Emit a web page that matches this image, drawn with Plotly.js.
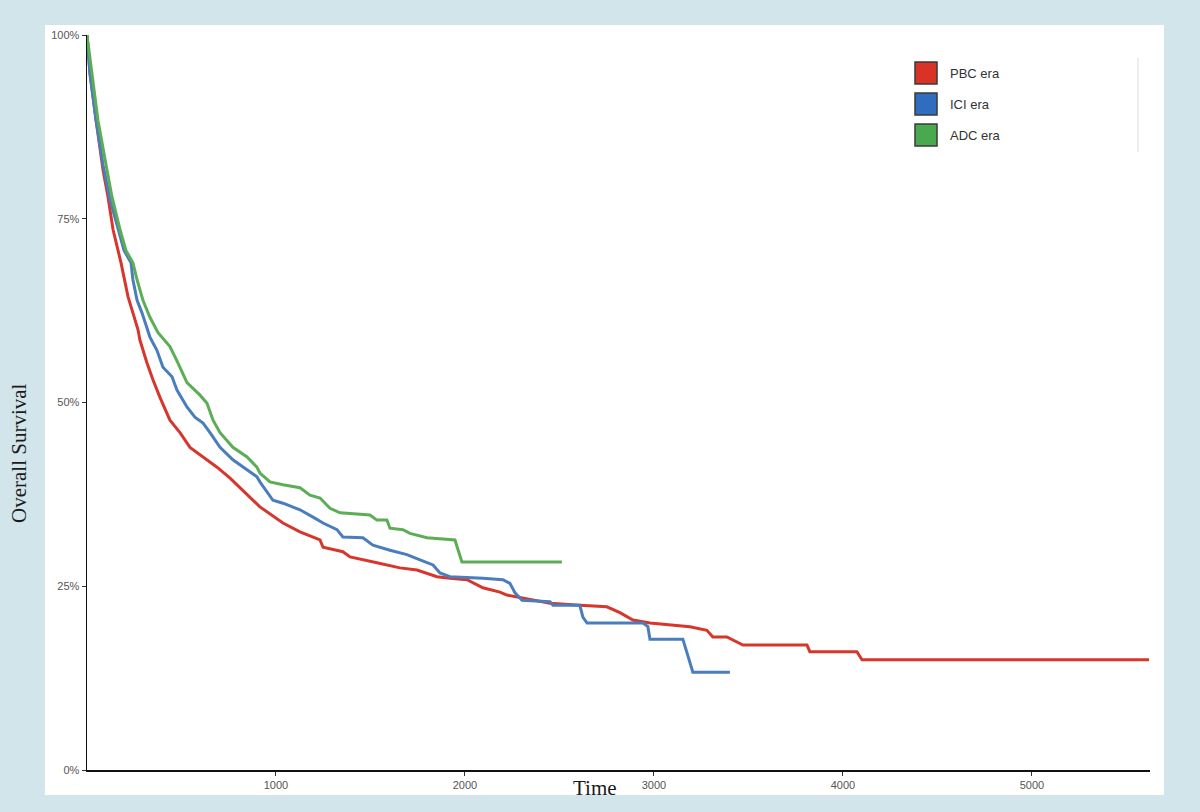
<!DOCTYPE html>
<html>
<head>
<meta charset="utf-8">
<script src="https://cdn.plot.ly/plotly-3.0.1.min.js"></script>
<style>
  html, body { margin: 0; padding: 0; background: rgb(210,229,234); }
  #chart { width: 1200px; height: 812px; }
</style>
</head>
<body>
<div id="chart"></div>
<script>
// Kaplan-Meier overall survival by treatment era (time in days, survival in %)
const eraNames = ['PBC era', 'ICI era', 'ADC era'];

const pbcTime = [0, 16, 48, 85, 111, 138, 180, 217, 243, 270, 280, 317, 349, 386, 439, 492, 545, 614, 688, 757,
  862, 915, 1037, 1127, 1233, 1249, 1354, 1392, 1534, 1656, 1746, 1852, 1921, 2011, 2095, 2185, 2222, 2307,
  2450, 2608, 2751, 2820, 2889, 2979, 3190, 3280, 3312, 3386, 3471, 3810, 3825, 4074, 4101, 5620];
const pbcSurv = [100, 94.8, 88.4, 81.6, 78.0, 73.5, 69.0, 64.4, 62.2, 59.9, 58.5, 55.4, 53.1, 50.7, 47.6, 45.9, 43.9, 42.6, 41.2, 39.7,
  37.1, 35.8, 33.6, 32.4, 31.3, 30.3, 29.7, 29.0, 28.2, 27.5, 27.2, 26.3, 26.1, 25.9, 24.8, 24.2, 23.8, 23.4,
  22.7, 22.4, 22.2, 21.4, 20.4, 20.0, 19.5, 19.0, 18.1, 18.1, 17.0, 17.0, 16.1, 16.1, 15.0, 15.0];

const iciTime = [0, 16, 48, 85, 122, 164, 196, 233, 243, 265, 291, 333, 370, 402, 450, 476, 529, 571, 614, 651,
  704, 772, 847, 899, 915, 984, 1037, 1127, 1196, 1249, 1323, 1354, 1460, 1513, 1603, 1693, 1762, 1831, 1868,
  1921, 2095, 2201, 2238, 2265, 2302, 2450, 2466, 2608, 2624, 2646, 2942, 2968, 2979, 3153, 3206, 3402];
const iciSurv = [100, 94.6, 88.4, 82.3, 77.6, 73.5, 70.7, 69.0, 66.7, 63.9, 62.2, 58.9, 57.1, 54.8, 53.5, 51.7, 49.4, 48.0, 47.2, 45.9,
  43.9, 42.2, 40.8, 39.9, 39.2, 36.7, 36.3, 35.4, 34.4, 33.6, 32.7, 31.7, 31.6, 30.6, 29.9, 29.3, 28.6, 27.9, 26.8,
  26.3, 26.1, 25.9, 25.4, 24.1, 23.1, 22.9, 22.4, 22.4, 20.8, 20.0, 20.0, 19.5, 17.8, 17.8, 13.3, 13.3];

const adcTime = [0, 26, 58, 106, 132, 175, 206, 243, 265, 296, 333, 376, 439, 481, 529, 598, 635, 667, 704, 772,
  847, 899, 915, 968, 1037, 1127, 1180, 1233, 1286, 1339, 1497, 1534, 1587, 1603, 1672, 1709, 1799, 1947,
  1974, 1984, 2513];
const adcSurv = [100, 94.8, 88.4, 81.6, 78.0, 73.5, 70.7, 69.0, 66.7, 63.9, 61.6, 59.5, 57.6, 55.4, 52.7, 51.0, 49.9, 47.6, 45.9, 43.9,
  42.6, 41.2, 40.4, 39.2, 38.8, 38.4, 37.4, 37.0, 35.6, 35.0, 34.7, 34.0, 34.0, 32.9, 32.7, 32.2, 31.6, 31.3,
  29.0, 28.3, 28.3];

const xTicks = [1000, 2000, 3000, 4000, 5000];
const yTicks = [0, 25, 50, 75, 100];

const lineColors = ['#d7362c', '#4a7dbd', '#5cae56'];
const swatchColors = ['#d93227', '#2f6ebe', '#4aa84f'];

// page geometry (pixels)
const W = 1200, H = 812;
const M = { l: 87, r: 50, t: 35, b: 42 };
const plotW = W - M.l - M.r, plotH = H - M.t - M.b;
const px = x => (x - M.l) / plotW;          // page x -> paper x
const py = y => (H - M.b - y) / plotH;      // page y -> paper y

const series = [[pbcTime, pbcSurv], [iciTime, iciSurv], [adcTime, adcSurv]];
const traces = series.map((s, i) => ({
  type: 'scatter',
  mode: 'lines',
  x: s[0],
  y: s[1],
  name: eraNames[i],
  line: { color: lineColors[i], width: 3, shape: 'linear' },
  showlegend: false,
  hoverinfo: 'x+y+name'
}));

const shapes = [
  // white panel behind the plot
  { type: 'rect', xref: 'paper', yref: 'paper', layer: 'below',
    x0: px(45), x1: px(1164), y0: py(795), y1: py(25),
    fillcolor: '#ffffff', line: { width: 0 } },
  // thin rule at the right of the key
  { type: 'line', xref: 'paper', yref: 'paper',
    x0: px(1138), x1: px(1138), y0: py(58), y1: py(152),
    line: { color: '#dcdcdc', width: 1 } }
];

const annotations = [
  { xref: 'paper', yref: 'paper', x: px(595), y: py(788), text: 'Time', showarrow: false,
    xanchor: 'center', yanchor: 'middle',
    font: { family: 'Liberation Serif, Times New Roman, serif', size: 21, color: '#1a1a1a' } },
  { xref: 'paper', yref: 'paper', x: px(19), y: py(453), text: 'Overall Survival', showarrow: false,
    textangle: -90, xanchor: 'center', yanchor: 'middle',
    font: { family: 'Liberation Serif, Times New Roman, serif', size: 21, color: '#1a1a1a' } }
];

// key: coloured squares with labels
const keyCenters = [73, 104, 135];
eraNames.forEach((name, i) => {
  const cy = keyCenters[i];
  shapes.push({ type: 'rect', xref: 'paper', yref: 'paper',
    x0: px(915), x1: px(937), y0: py(cy + 11), y1: py(cy - 11),
    fillcolor: swatchColors[i], line: { color: '#3a3a3a', width: 1.5 } });
  annotations.push({ xref: 'paper', yref: 'paper', x: px(948), y: py(cy), text: name,
    showarrow: false, xanchor: 'left', yanchor: 'middle',
    font: { family: 'Liberation Sans, Arial, sans-serif', size: 13, color: '#333333' } });
});

const axisCommon = {
  showgrid: false,
  zeroline: false,
  showline: true,
  linecolor: '#111111',
  linewidth: 1.5,
  ticks: 'outside',
  ticklen: 4,
  tickwidth: 1,
  tickcolor: '#333333',
  tickfont: { family: 'Liberation Sans, Arial, sans-serif', size: 11, color: '#555555' }
};

const layout = {
  width: W,
  height: H,
  margin: M,
  paper_bgcolor: 'rgb(210,229,234)',
  plot_bgcolor: '#ffffff',
  showlegend: false,
  xaxis: Object.assign({}, axisCommon, {
    range: [0, 5625],
    tickvals: xTicks,
    ticktext: xTicks.map(String)
  }),
  yaxis: Object.assign({}, axisCommon, {
    range: [0, 100],
    tickvals: yTicks,
    ticktext: yTicks.map(v => v + '%')
  }),
  shapes: shapes,
  annotations: annotations
};

Plotly.newPlot('chart', traces, layout, { displayModeBar: false, staticPlot: true });
</script>
</body>
</html>
